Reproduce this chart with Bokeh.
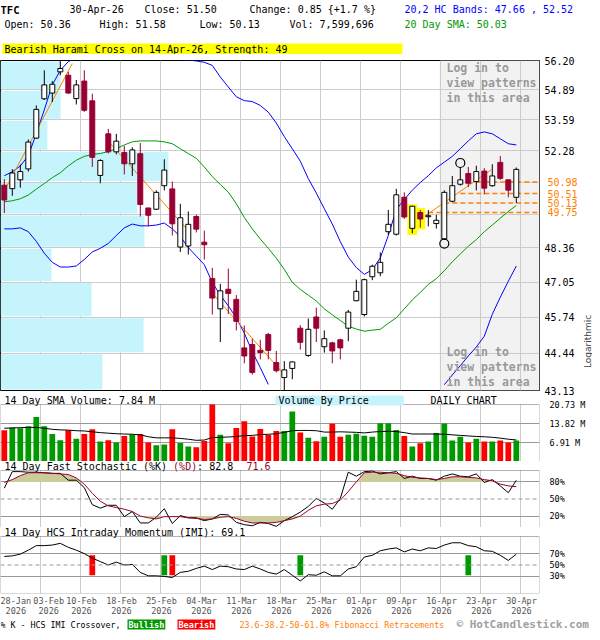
import numpy as np
from bokeh.plotting import figure
from bokeh.layouts import column, row
from bokeh.models import (Range1d, FixedTicker, Label, BoxAnnotation, Span, LogAxis,
                          PrintfTickFormatter, CustomJSTickFormatter)
from bokeh.embed import file_html
from bokeh.resources import INLINE

NAN = float("nan")

# ---------------- data ----------------
tick_days = [0, 4, 9, 14, 19, 24, 29, 34, 39, 44, 49, 54, 59, 64]
tick_dates = ["28-Jan", "03-Feb", "10-Feb", "18-Feb", "25-Feb", "04-Mar", "11-Mar",
              "18-Mar", "25-Mar", "01-Apr", "09-Apr", "16-Apr", "23-Apr", "30-Apr"]
tick_year = "2026"

opens = [50.85, 50.71, 51.07, 51.52, 52.81, 54.50, 54.75, 55.69, 55.54, 54.51,
         55.28, 54.41, 51.25, 52.99, 52.23, 52.20, 51.73, 52.15, 49.93, 49.88,
         50.83, 50.70, 48.39, 48.43, 49.59, 48.58, 47.18, 46.05, 46.78, 46.40,
         44.63, 44.75, 44.54, 45.11, 44.11, 43.58, 43.90, 45.34, 44.36, 45.75,
         44.67, 44.81, 44.92, 45.34, 46.35, 45.84, 47.25, 47.40, 48.99, 48.89,
         50.36, 49.12, 49.75, 49.58, 49.31, 48.71, 50.20, 50.89, 51.33, 51.00,
         51.43, 50.83, 51.79, 51.07, 50.36]
highs = [51.10, 51.51, 51.70, 52.75, 54.21, 55.76, 55.28, 56.25, 55.69, 55.33,
         55.76, 54.72, 51.92, 53.20, 52.99, 52.48, 52.42, 52.60, 49.94, 50.64,
         51.92, 51.00, 50.10, 49.79, 49.66, 49.03, 47.59, 46.98, 47.56, 46.56,
         45.44, 44.96, 44.92, 45.17, 44.52, 44.16, 44.14, 45.45, 45.69, 46.09,
         45.26, 44.85, 44.96, 46.01, 47.14, 47.18, 47.71, 48.18, 49.85, 50.70,
         50.56, 50.00, 49.85, 49.85, 49.66, 50.64, 51.23, 51.60, 51.60, 51.65,
         51.55, 51.71, 52.06, 51.08, 51.58]
lows = [49.73, 50.42, 50.75, 51.41, 52.78, 54.45, 54.36, 55.54, 54.72, 54.25,
        53.93, 51.60, 50.93, 52.16, 52.12, 51.29, 51.23, 49.59, 49.20, 49.86,
        50.64, 48.84, 48.20, 48.10, 48.96, 47.91, 45.84, 44.84, 45.86, 45.26,
        44.08, 43.68, 44.22, 44.22, 43.76, 43.08, 43.52, 44.57, 44.31, 44.84,
        44.46, 44.08, 44.22, 44.87, 46.33, 45.77, 47.12, 47.27, 48.86, 48.84,
        49.49, 48.93, 49.15, 49.20, 49.11, 48.68, 50.16, 50.83, 50.77, 50.64,
        50.48, 50.79, 51.07, 50.36, 50.13]
closes = [50.25, 51.35, 51.41, 52.64, 54.04, 55.11, 55.14, 55.84, 54.75, 55.11,
          54.00, 52.00, 51.87, 52.23, 52.68, 51.73, 52.31, 50.07, 49.64, 50.56,
          51.47, 49.30, 49.54, 49.28, 49.09, 48.48, 46.45, 46.72, 46.62, 45.59,
          44.34, 43.76, 44.46, 44.54, 43.82, 43.85, 44.13, 44.83, 45.30, 45.34,
          44.96, 44.52, 44.63, 45.93, 46.70, 47.14, 47.65, 47.80, 49.28, 50.46,
          49.57, 50.00, 49.49, 49.62, 49.44, 50.56, 50.83, 51.07, 50.93, 51.41,
          50.73, 51.23, 51.13, 50.65, 51.50]
volume_m = [11.4, 12.4, 12.1, 12.8, 16.2, 12.8, 10.0, 7.7, 11.4, 8.3,
            10.0, 11.7, 7.3, 7.7, 6.9, 9.3, 9.8, 10.0, 6.9, 5.9,
            6.2, 11.7, 6.7, 5.5, 5.2, 7.5, 20.73, 9.72, 6.67, 12.18,
            14.64, 9.13, 11.83, 9.60, 11.12, 11.12, 18.15, 10.54, 8.67, 7.38,
            9.02, 13.70, 9.02, 9.72, 10.07, 9.37, 9.02, 13.94, 13.94, 11.48,
            9.3, 5.5, 6.6, 7.3, 10.4, 13.8, 7.6, 9.0, 6.9, 8.3,
            7.3, 7.3, 7.6, 6.9, 7.60]
volume_sma_m = [12.1, 12.2, 12.3, 12.4, 12.4, 12.1, 11.7, 11.5, 11.4, 11.2,
                11.1, 10.8, 10.5, 10.3, 10.1, 10.0, 9.9, 9.7, 9.0, 8.6,
                8.6, 8.6, 8.4, 8.1, 7.7, 7.8, 8.7, 8.8, 8.9, 9.1,
                9.4, 9.5, 9.8, 9.9, 10.1, 10.6, 11.2, 11.3, 11.3, 11.2,
                10.7, 10.7, 10.8, 10.7, 10.6, 10.4, 10.7, 10.9, 11.0, 10.9,
                10.5, 10.0, 10.0, 10.0, 10.0, 9.9, 9.7, 9.5, 9.3, 9.1,
                9.0, 8.8, 8.5, 8.1, 7.84]
sma20 = [50.18, 50.22, 50.30, 50.45, 50.69, 50.92, 51.16, 51.36, 51.64, 51.88,
         52.04, 52.12, 52.16, 52.24, 52.36, 52.52, 52.65, 52.69, 52.69, 52.69,
         52.65, 52.57, 52.36, 52.16, 51.96, 51.60, 51.20, 50.88, 50.57, 50.10,
         49.55, 49.10, 48.70, 48.34, 47.96, 47.53, 47.04, 46.77, 46.56, 46.34,
         46.05, 45.83, 45.62, 45.41, 45.31, 45.23, 45.27, 45.30, 45.52, 45.72,
         46.05, 46.38, 46.66, 46.96, 47.18, 47.48, 47.82, 48.12, 48.42, 48.68,
         48.99, 49.25, 49.52, 49.79, 50.03]
hc_upper = [51.24, 51.40, 51.64, 52.07, 52.99, 54.02, 55.11, 55.76, 56.15, 56.33,
            56.35, 56.38, 56.36, 56.33, 56.30, 56.30, 56.32, 56.34, 56.33, 56.30,
            56.28, 56.26, 56.25, 56.22, 56.18, 56.12, 55.98, 55.46, 55.02, 54.59,
            54.42, 54.38, 54.21, 53.92, 53.45, 52.87, 52.36, 51.84, 51.12, 50.53,
            49.90, 49.29, 48.60, 48.00, 47.60, 47.34, 47.52, 47.97, 48.84, 49.87,
            50.27, 50.65, 50.96, 51.24, 51.56, 51.80, 52.04, 52.36, 52.69, 52.99,
            53.07, 52.99, 52.78, 52.57, 52.52]
hc_lower = [49.10, 49.10, 49.14, 48.99, 48.61, 48.15, 47.80, 47.62, 47.62, 47.66,
            47.91, 48.20, 48.34, 48.53, 48.84, 49.14, 49.29, 49.22, 49.22, 49.25,
            49.33, 49.10, 48.80, 48.37, 48.04, 47.71, 47.03, 46.56, 46.16, 45.72,
            45.16, 44.49, 43.93, 43.34, NAN, NAN, NAN, NAN, NAN, NAN,
            NAN, NAN, NAN, NAN, NAN, NAN, NAN, NAN, NAN, NAN,
            NAN, NAN, NAN, NAN, NAN, 43.33, 43.67, 44.00, 44.34, 44.66,
            45.05, 45.85, 46.48, 47.08, 47.66]
stoch_k = [69, 98, 98, 97, 97, 96, 95, 95, 83, 83,
           70, 40, 34, 39, 39, 19, 28, 8, 8, 18,
           33, 7, 21, 17, 17, 12, 15, 23, 22, 9,
           5, 3, 9, 7, 2, 12, 19, 27, 37, 51,
           43, 32, 51, 97, 90, 98, 99, 94, 96, 98,
           86, 90, 86, 86, 83, 90, 94, 90, 89, 94,
           79, 84, 73, 61, 82.8]
stoch_d = [79, 84, 91, 96, 96, 96, 95, 94, 93, 87,
           76, 60, 46, 38, 35, 32, 28, 20, 17, 15,
           19, 19, 19, 17, 16, 14, 15, 18, 19, 16,
           11, 8, 8, 8, 9, 12, 15, 20, 30, 38,
           41, 42, 48, 63, 80, 96, 97, 97, 96, 95,
           91, 88, 87, 86, 84, 86, 89, 89, 88, 87,
           84, 82, 76, 73, 71.6]
imi = [65, 66, 69, 76, 84, 84, 85, 88, 81, 76,
       70, 62, 56, 50, 55, 50, 51, 37, 31, 31,
       30, 28, 37, 39, 44, 48, 42, 48, 47, 43,
       42, 48, 43, 37, 34, 42, 32, 22, 33, 32,
       38, 31, 31, 43, 47, 64, 67, 75, 78, 80,
       73, 78, 75, 80, 79, 85, 89, 89, 84, 82,
       75, 74, 67, 58, 69.1]
imi_bull_days = [20, 37, 58]
imi_bear_days = [11, 21]

price_ticks = [43.13, 44.44, 45.74, 47.05, 48.36, 49.67, 50.98, 52.28, 53.59, 54.89, 56.20]
price_label_ticks = [43.13, 44.44, 45.74, 47.05, 48.36, 52.28, 53.59, 54.89, 56.20]
vbp_volume_m = [37.8, 53.1, 33.8, 18.9, 53.4, 50.8, 62.3, 17.4, 22.3, 22.3]  # bands, bottom -> top
fib_levels = [50.98, 50.51, 50.13, 49.75]
fib_start_days = [59, 57, 55, 52]
trend_x0 = [-0.1, 12.9, 25.9, 51.5]
trend_y0 = [50.56, 52.71, 46.66, 49.37]
trend_x1 = [8.5, 23.0, 35.2, 60.9]
trend_y1 = [56.06, 49.03, 43.62, 51.49]
harami_days = [51, 52]
circle_low_days = [55]
circle_high_days = [57]
vol_ticks = [6.91, 13.82, 20.73]
login_from_day = 54.5

# ---------------- styling ----------------
MONO = "DejaVu Sans Mono"
CANDLE_RED = "#990033"
GRID = "#cccccc"
GRID_DARK = "#999999"
ORANGE = "#ff8000"
W_FRAME = 539
ROW_PX = 9       # caption row above each lower panel
PANEL_PX = 57    # plot height of each lower panel

n = len(closes)
idx = np.arange(n)
o = np.array(opens); h = np.array(highs); l = np.array(lows); c = np.array(closes)
up = c >= o

XR = Range1d(-0.475, 66.9)
grid_x = [d + 0.5 for d in tick_days[1:]]


def no_ticks(ax):
    ax.axis_line_color = None
    ax.major_tick_line_color = None
    ax.minor_tick_line_color = None
    ax.major_tick_out = 0
    ax.major_tick_in = 0
    ax.minor_tick_out = 0
    ax.minor_tick_in = 0
    ax.major_label_text_font = MONO
    ax.major_label_text_color = "black"


def make_fig(frame_h, top, bottom, y_range, y_type="linear", x_loc=None, right=53,
             outline="black"):
    f = figure(frame_width=W_FRAME, frame_height=frame_h, x_range=XR, y_range=y_range,
               y_axis_type=y_type, x_axis_location=x_loc, y_axis_location="right",
               toolbar_location=None, output_backend="svg", title=None,
               min_border_left=0, min_border_right=right, min_border_top=top,
               min_border_bottom=bottom, outline_line_color=outline,
               background_fill_color="white", border_fill_color="white")
    f.xgrid.ticker = FixedTicker(ticks=grid_x)
    f.xgrid.grid_line_color = GRID
    for ax in f.yaxis:
        no_ticks(ax)
    return f


def text_fig(width, height):
    f = figure(frame_width=width, frame_height=height, x_range=Range1d(0, 1),
               y_range=Range1d(0, 1), x_axis_location=None, y_axis_location=None,
               toolbar_location=None, output_backend="svg", title=None,
               min_border_left=0, min_border_right=0, min_border_top=0, min_border_bottom=0,
               outline_line_color=None, background_fill_color="white",
               border_fill_color="white")
    f.grid.visible = False
    return f


def bound_vgrid(f, lo, hi):
    try:
        f.xgrid.cross_bounds = (lo, hi)
    except Exception:
        f.xgrid.visible = False
        f.segment(x0=grid_x, y0=lo, x1=grid_x, y1=hi, line_color=GRID, level="underlay")


def add_text(f, x, y, text, color="black", size="10px", bold=False, bg=None, pad=None,
             y_units="screen", angle=0.0, font=MONO, align="left"):
    kw = dict(x=x, y=y, x_units="screen", y_units=y_units, text=text, text_color=color,
              text_font=font, text_font_size=size,
              text_font_style="bold" if bold else "normal",
              text_baseline="middle", text_align=align, angle=angle)
    if bg is not None:
        kw["background_fill_color"] = bg
    lab = None
    if pad is not None:
        try:
            lab = Label(padding=pad, **kw)
        except Exception:
            lab = None
    if lab is None:
        lab = Label(**kw)
    f.add_layout(lab)


def ext_top(lo, hi):
    # range top so that a caption row of ROW_PX sits above the plotted interval
    return hi + (hi - lo) * ROW_PX / PANEL_PX


ROW_Y = PANEL_PX + ROW_PX / 2.0

# ---------------- header ----------------
hdr = text_fig(592, 54)
add_text(hdr, 0, 45, "TFC", bold=True, size="10.5px")
add_text(hdr, 69, 45, "30-Apr-26")
add_text(hdr, 144, 45, "Close: 51.50")
add_text(hdr, 249, 45, "Change: 0.85 {+1.7 %}")
add_text(hdr, 404, 45, "20,2 HC Bands: 47.66 , 52.52", color="#0000ff")
add_text(hdr, 4, 30, "Open: 50.36")
add_text(hdr, 99, 30, "High: 51.58")
add_text(hdr, 199, 30, "Low: 50.13")
add_text(hdr, 289, 30, "Vol: 7,599,696")
add_text(hdr, 404, 30, "20 Day SMA: 50.03", color="#009900")
add_text(hdr, 2, 5.5, "Bearish Harami Cross on 14-Apr-26, Strength: 49", bg="#ffff00",
         pad=dict(left=2, right=115, top=0, bottom=0))

# ---------------- price panel ----------------
pp = make_fig(330, 6, 5, Range1d(price_ticks[0], price_ticks[-1]), "log", right=43)
axp = pp.yaxis[0]
axp.ticker = FixedTicker(ticks=price_label_ticks)
axp.formatter = PrintfTickFormatter(format="%.2f")
axp.major_label_text_font_size = "10px"
axp.major_label_standoff = 5
fib_axis = LogAxis(ticker=FixedTicker(ticks=fib_levels),
                   formatter=PrintfTickFormatter(format="%.2f"))
no_ticks(fib_axis)
fib_axis.major_label_text_color = ORANGE
fib_axis.major_label_text_font_size = "10px"
fib_axis.major_label_standoff = -30
pp.add_layout(fib_axis, "right")
pp.ygrid.ticker = FixedTicker(ticks=price_ticks)
pp.ygrid.grid_line_color = GRID

pp.add_layout(BoxAnnotation(left=login_from_day, fill_color="#f2f2f2", fill_alpha=1.0,
                            line_color="#999999", line_width=1, level="image"))

pp.extra_x_ranges = {"vbp": Range1d(0, 200)}
pp.quad(left=0, right=vbp_volume_m,
        bottom=[b * 1.0008 for b in price_ticks[:-1]],
        top=[t / 1.0008 for t in price_ticks[1:]],
        x_range_name="vbp", fill_color="#c6f4fc", line_color=None)

pp.line(idx, hc_upper, line_color="#0000ff", line_width=1)
pp.line(idx, hc_lower, line_color="#0000ff", line_width=1)
pp.line(idx, sma20, line_color="#009900", line_width=1)

pp.segment(x0=trend_x0, y0=trend_y0, x1=trend_x1, y1=trend_y1, line_color=ORANGE, line_width=1)
pp.segment(x0=fib_start_days, y0=fib_levels, x1=[XR.end] * len(fib_levels), y1=fib_levels,
           line_color=ORANGE, line_width=1.5, line_dash="5 3")

hd = np.array(harami_days)
pp.quad(left=hd - 0.6, right=hd + 0.6, top=h[hd] * 1.0015, bottom=l[hd] / 1.0015,
        fill_color="#ffff00", line_color=None)

wick_col = ["black" if u else CANDLE_RED for u in up]
body_fill = ["white" if u else CANDLE_RED for u in up]
pp.segment(x0=idx, y0=l, x1=idx, y1=h, line_color=wick_col, line_width=1)
pp.vbar(x=idx, width=0.62, top=np.maximum(o, c), bottom=np.minimum(o, c),
        fill_color=body_fill, line_color=wick_col, line_width=1)

cl = np.array(circle_low_days); ch = np.array(circle_high_days)
pp.scatter(x=np.concatenate([cl, ch]),
           y=np.concatenate([l[cl] / 1.0032, h[ch] * 1.0032]),
           marker="circle", size=9, fill_color=None, line_color="black", line_width=1.2)

for k, s in enumerate(["Log in to", "view patterns", "in this area"]):
    add_text(pp, 446, 323 - 15 * k, s, color="#999999", bold=True, size="11.5px")
    add_text(pp, 446, 39 - 15 * k, s, color="#999999", bold=True, size="11.5px")

strip = text_fig(10, 330)
strip.min_border_top = 6
strip.min_border_bottom = 5
add_text(strip, 5, 49, "Logarithmic", color="#444444", size="9px", font="DejaVu Sans",
         angle=np.pi / 2, align="center")

# ---------------- volume panel ----------------
pv = make_fig(PANEL_PX + ROW_PX, 0, 0, Range1d(0, ext_top(0, vol_ticks[-1])), outline=None)
pv.add_layout(BoxAnnotation(top=vol_ticks[-1], fill_color=None, line_color="black", line_width=1))
bound_vgrid(pv, 0, vol_ticks[-1])
pv.yaxis.ticker = FixedTicker(ticks=vol_ticks)
pv.yaxis.formatter = PrintfTickFormatter(format="%.2f M")
pv.yaxis.major_label_text_font_size = "8.5px"
pv.yaxis.major_label_standoff = 10
pv.ygrid.ticker = FixedTicker(ticks=vol_ticks[:2])
pv.ygrid.grid_line_color = GRID_DARK
vcol = ["#009900" if u else "#ff0000" for u in up]
pv.vbar(x=idx, top=volume_m, width=0.72, fill_color=vcol, line_color=None)
pv.line(idx, volume_sma_m, line_color="black", line_width=1)
add_text(pv, 4, ROW_Y, "14 Day SMA Volume: %.2f M" % volume_sma_m[-1])
add_text(pv, 275, ROW_Y, "Volume By Price", bg="#c6f4fc",
         pad=dict(left=3, right=35, top=0, bottom=0))
add_text(pv, 430, ROW_Y, "DAILY CHART")

# ---------------- stochastic panel ----------------
ps = make_fig(PANEL_PX + ROW_PX, 0, 0, Range1d(0, ext_top(0, 100)), outline=None)
ps.add_layout(BoxAnnotation(top=100, fill_color=None, line_color="black", line_width=1))
bound_vgrid(ps, 0, 100)
ps.yaxis.ticker = FixedTicker(ticks=[20, 50, 80])
ps.yaxis.formatter = PrintfTickFormatter(format="%d%%")
ps.yaxis.major_label_text_font_size = "8.5px"
ps.yaxis.major_label_standoff = 10
ps.ygrid.ticker = FixedTicker(ticks=[20, 80])
ps.ygrid.grid_line_color = GRID_DARK
ps.add_layout(Span(location=50, dimension="width", line_color=GRID_DARK, line_dash="4 3", line_width=1))
d_arr = np.array(stoch_d, dtype=float)
ps.varea(x=idx, y1=80, y2=np.maximum(d_arr, 80), fill_color="#cccc99")
ps.varea(x=idx, y1=np.minimum(d_arr, 20), y2=20, fill_color="#cccc99")
ps.line(idx, stoch_k, line_color="black", line_width=1)
ps.line(idx, stoch_d, line_color=CANDLE_RED, line_width=1)
add_text(ps, 4, ROW_Y, "14 Day Fast Stochastic (%K) ")
add_text(ps, 172.6, ROW_Y, "(%D)", color=CANDLE_RED)
add_text(ps, 196.6, ROW_Y, ": %.1f" % stoch_k[-1])
add_text(ps, 246, ROW_Y, "%.1f" % stoch_d[-1], color=CANDLE_RED)

# ---------------- IMI panel ----------------
pi = make_fig(PANEL_PX + ROW_PX, 0, 19, Range1d(0, ext_top(0, 100)), x_loc="below", outline=None)
pi.add_layout(BoxAnnotation(top=100, fill_color=None, line_color="black", line_width=1))
bound_vgrid(pi, 0, 100)
pi.yaxis.ticker = FixedTicker(ticks=[30, 50, 70])
pi.yaxis.formatter = PrintfTickFormatter(format="%d%%")
pi.yaxis.major_label_text_font_size = "8.5px"
pi.yaxis.major_label_standoff = 10
pi.ygrid.ticker = FixedTicker(ticks=[30, 70])
pi.ygrid.grid_line_color = GRID_DARK
pi.add_layout(Span(location=50, dimension="width", line_color=GRID_DARK, line_dash="4 3", line_width=1))
pi.vbar(x=imi_bull_days, bottom=32, top=67, width=0.72, fill_color="#009900", line_color=None)
pi.vbar(x=imi_bear_days, bottom=32, top=67, width=0.72, fill_color="#ff0000", line_color=None)
pi.line(idx, imi, line_color="black", line_width=1)
add_text(pi, 4, ROW_Y, "14 Day HCS Intraday Momentum (IMI): %.1f" % imi[-1])

label_x = [d + 0.65 for d in tick_days]
label_x[0] = 1.3
label_x[1] = 5.55
ax = pi.xaxis[0]
ax.ticker = FixedTicker(ticks=label_x)
ax.formatter = CustomJSTickFormatter(
    args=dict(labels=["%s\n%s" % (d, tick_year) for d in tick_dates]),
    code="return labels[index];")
no_ticks(ax)
ax.major_label_text_font_size = "8.5px"
ax.major_label_text_color = "#555555"
ax.major_label_standoff = 2
try:
    ax.major_label_text_line_height = 1.0
except Exception:
    pass

# ---------------- legend row ----------------
leg = text_fig(592, 12)
add_text(leg, 0, 6, "% K - HCS IMI Crossover,", size="8.3px")
add_text(leg, 127, 6, "Bullish", color="white", size="8.5px", bold=True, bg="#009900",
         pad=dict(left=1, right=1, top=0, bottom=0))
add_text(leg, 177, 6, "Bearish", color="white", size="8.5px", bold=True, bg="#ff0000",
         pad=dict(left=1, right=1, top=0, bottom=0))
add_text(leg, 239, 6, "23.6-38.2-50-61.8% Fibonacci Retracements", color=ORANGE, size="8.3px")
add_text(leg, 456, 6, "\u00a9 HotCandlestick.com", color="#a0a0a0", size="11px", bold=True)

layout = column(hdr, row(pp, strip, spacing=0), pv, ps, pi, leg, spacing=0)
open("out.html", "w").write(file_html(layout, INLINE, title="TFC"))
